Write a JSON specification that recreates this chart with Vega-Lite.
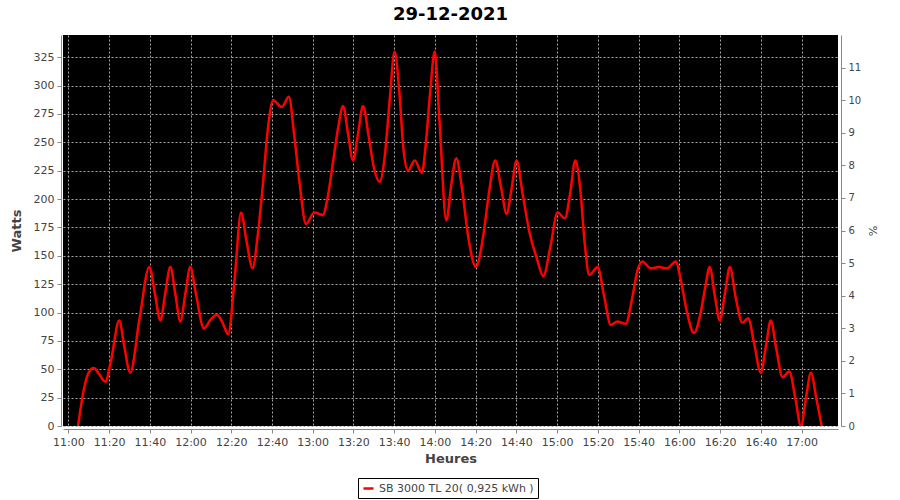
{
  "$schema": "https://vega.github.io/schema/vega-lite/v6.json",
  "autosize": {"type": "none"},
  "width": 775,
  "height": 391,
  "padding": {"left": 63, "top": 35, "right": 62, "bottom": 74},
  "background": "white",
  "title": {"text": "29-12-2021", "anchor": "middle", "offset": 11, "fontSize": 18, "font": "DejaVu Sans", "fontWeight": "bold", "color": "black"},
  "config": {
    "view": {"fill": "black", "stroke": null},
    "axis": {"labelFont": "DejaVu Sans", "labelFontSize": 11, "labelColor": "#444444", "titleFont": "DejaVu Sans", "titleFontSize": 13, "titleFontWeight": "bold", "titleColor": "#444444", "domainColor": "#888888", "tickColor": "#888888", "tickSize": 4, "gridColor": "#a8a8a8", "gridDash": [2, 2], "gridWidth": 1},
    "legend": {"labelFont": "DejaVu Sans", "labelFontSize": 11, "labelColor": "#444444"}
  },
  "layer": [
    {
      "data": {"values": [
        {"t": "2021-12-29T11:04:48", "w": 0},
        {"t": "2021-12-29T11:07:36", "w": 32},
        {"t": "2021-12-29T11:10:00", "w": 47},
        {"t": "2021-12-29T11:12:30", "w": 51},
        {"t": "2021-12-29T11:15:00", "w": 46},
        {"t": "2021-12-29T11:18:12", "w": 39},
        {"t": "2021-12-29T11:21:00", "w": 58},
        {"t": "2021-12-29T11:25:00", "w": 93},
        {"t": "2021-12-29T11:27:30", "w": 70},
        {"t": "2021-12-29T11:30:24", "w": 47},
        {"t": "2021-12-29T11:35:00", "w": 95},
        {"t": "2021-12-29T11:39:48", "w": 140},
        {"t": "2021-12-29T11:42:30", "w": 117},
        {"t": "2021-12-29T11:45:12", "w": 93},
        {"t": "2021-12-29T11:47:36", "w": 117},
        {"t": "2021-12-29T11:50:06", "w": 140},
        {"t": "2021-12-29T11:52:30", "w": 117},
        {"t": "2021-12-29T11:55:00", "w": 92},
        {"t": "2021-12-29T11:57:30", "w": 117},
        {"t": "2021-12-29T11:59:54", "w": 140},
        {"t": "2021-12-29T12:02:30", "w": 118},
        {"t": "2021-12-29T12:06:36", "w": 86},
        {"t": "2021-12-29T12:10:00", "w": 94},
        {"t": "2021-12-29T12:12:54", "w": 98},
        {"t": "2021-12-29T12:15:30", "w": 92},
        {"t": "2021-12-29T12:18:30", "w": 81},
        {"t": "2021-12-29T12:21:42", "w": 130},
        {"t": "2021-12-29T12:24:48", "w": 188},
        {"t": "2021-12-29T12:27:30", "w": 163},
        {"t": "2021-12-29T12:30:30", "w": 139},
        {"t": "2021-12-29T12:33:00", "w": 168},
        {"t": "2021-12-29T12:35:30", "w": 212},
        {"t": "2021-12-29T12:38:00", "w": 262},
        {"t": "2021-12-29T12:40:36", "w": 287},
        {"t": "2021-12-29T12:44:48", "w": 281},
        {"t": "2021-12-29T12:48:18", "w": 290},
        {"t": "2021-12-29T12:50:48", "w": 258},
        {"t": "2021-12-29T12:53:30", "w": 215},
        {"t": "2021-12-29T12:56:42", "w": 178},
        {"t": "2021-12-29T13:00:48", "w": 188},
        {"t": "2021-12-29T13:04:54", "w": 186},
        {"t": "2021-12-29T13:07:30", "w": 203},
        {"t": "2021-12-29T13:10:00", "w": 233},
        {"t": "2021-12-29T13:12:30", "w": 263},
        {"t": "2021-12-29T13:14:54", "w": 282},
        {"t": "2021-12-29T13:17:18", "w": 258},
        {"t": "2021-12-29T13:19:48", "w": 234},
        {"t": "2021-12-29T13:22:18", "w": 258},
        {"t": "2021-12-29T13:24:42", "w": 282},
        {"t": "2021-12-29T13:27:30", "w": 255},
        {"t": "2021-12-29T13:30:00", "w": 228},
        {"t": "2021-12-29T13:32:54", "w": 215},
        {"t": "2021-12-29T13:35:12", "w": 235},
        {"t": "2021-12-29T13:37:42", "w": 285},
        {"t": "2021-12-29T13:40:12", "w": 330},
        {"t": "2021-12-29T13:42:30", "w": 295},
        {"t": "2021-12-29T13:44:30", "w": 245},
        {"t": "2021-12-29T13:46:48", "w": 225},
        {"t": "2021-12-29T13:50:06", "w": 234},
        {"t": "2021-12-29T13:53:36", "w": 223},
        {"t": "2021-12-29T13:55:36", "w": 250},
        {"t": "2021-12-29T13:57:42", "w": 295},
        {"t": "2021-12-29T13:59:54", "w": 330},
        {"t": "2021-12-29T14:02:12", "w": 270},
        {"t": "2021-12-29T14:05:36", "w": 181},
        {"t": "2021-12-29T14:08:00", "w": 212},
        {"t": "2021-12-29T14:10:30", "w": 236},
        {"t": "2021-12-29T14:13:00", "w": 213},
        {"t": "2021-12-29T14:16:30", "w": 165},
        {"t": "2021-12-29T14:20:06", "w": 140},
        {"t": "2021-12-29T14:23:30", "w": 165},
        {"t": "2021-12-29T14:26:30", "w": 205},
        {"t": "2021-12-29T14:29:36", "w": 234},
        {"t": "2021-12-29T14:32:30", "w": 210},
        {"t": "2021-12-29T14:35:12", "w": 187},
        {"t": "2021-12-29T14:37:42", "w": 210},
        {"t": "2021-12-29T14:40:06", "w": 234},
        {"t": "2021-12-29T14:43:00", "w": 205},
        {"t": "2021-12-29T14:46:30", "w": 170},
        {"t": "2021-12-29T14:50:00", "w": 148},
        {"t": "2021-12-29T14:53:12", "w": 132},
        {"t": "2021-12-29T14:56:42", "w": 158},
        {"t": "2021-12-29T15:00:12", "w": 188},
        {"t": "2021-12-29T15:03:48", "w": 183},
        {"t": "2021-12-29T15:06:24", "w": 205},
        {"t": "2021-12-29T15:08:54", "w": 234},
        {"t": "2021-12-29T15:11:18", "w": 210},
        {"t": "2021-12-29T15:13:36", "w": 160},
        {"t": "2021-12-29T15:15:48", "w": 133},
        {"t": "2021-12-29T15:19:54", "w": 140},
        {"t": "2021-12-29T15:23:00", "w": 115},
        {"t": "2021-12-29T15:26:24", "w": 89},
        {"t": "2021-12-29T15:29:30", "w": 92},
        {"t": "2021-12-29T15:33:36", "w": 90},
        {"t": "2021-12-29T15:36:48", "w": 112},
        {"t": "2021-12-29T15:39:18", "w": 136},
        {"t": "2021-12-29T15:41:48", "w": 145},
        {"t": "2021-12-29T15:45:54", "w": 139},
        {"t": "2021-12-29T15:50:00", "w": 140},
        {"t": "2021-12-29T15:54:06", "w": 139},
        {"t": "2021-12-29T15:58:12", "w": 145},
        {"t": "2021-12-29T16:00:48", "w": 128},
        {"t": "2021-12-29T16:03:48", "w": 100},
        {"t": "2021-12-29T16:07:12", "w": 82},
        {"t": "2021-12-29T16:10:30", "w": 100},
        {"t": "2021-12-29T16:12:42", "w": 122},
        {"t": "2021-12-29T16:14:54", "w": 140},
        {"t": "2021-12-29T16:17:24", "w": 115},
        {"t": "2021-12-29T16:19:54", "w": 93},
        {"t": "2021-12-29T16:22:24", "w": 117},
        {"t": "2021-12-29T16:24:48", "w": 140},
        {"t": "2021-12-29T16:27:42", "w": 113},
        {"t": "2021-12-29T16:30:54", "w": 91},
        {"t": "2021-12-29T16:33:48", "w": 95},
        {"t": "2021-12-29T16:36:48", "w": 72},
        {"t": "2021-12-29T16:40:00", "w": 47},
        {"t": "2021-12-29T16:42:30", "w": 70},
        {"t": "2021-12-29T16:44:54", "w": 93},
        {"t": "2021-12-29T16:47:36", "w": 68},
        {"t": "2021-12-29T16:50:42", "w": 43},
        {"t": "2021-12-29T16:54:00", "w": 48},
        {"t": "2021-12-29T16:57:00", "w": 24},
        {"t": "2021-12-29T16:59:42", "w": 0},
        {"t": "2021-12-29T17:02:12", "w": 25},
        {"t": "2021-12-29T17:04:36", "w": 47},
        {"t": "2021-12-29T17:07:18", "w": 24},
        {"t": "2021-12-29T17:09:54", "w": 0}
      ]},
      "mark": {"type": "line", "interpolate": "monotone", "strokeWidth": 2.5, "clip": true},
      "encoding": {
        "x": {"field": "t", "type": "temporal", "title": "Heures",
              "scale": {"domain": ["2021-12-29T10:57:24", "2021-12-29T17:17:54"]},
              "axis": {"format": "%H:%M", "values": ["2021-12-29T11:00:00", "2021-12-29T11:20:00", "2021-12-29T11:40:00", "2021-12-29T12:00:00", "2021-12-29T12:20:00", "2021-12-29T12:40:00", "2021-12-29T13:00:00", "2021-12-29T13:20:00", "2021-12-29T13:40:00", "2021-12-29T14:00:00", "2021-12-29T14:20:00", "2021-12-29T14:40:00", "2021-12-29T15:00:00", "2021-12-29T15:20:00", "2021-12-29T15:40:00", "2021-12-29T16:00:00", "2021-12-29T16:20:00", "2021-12-29T16:40:00", "2021-12-29T17:00:00"], "offset": 3, "labelPadding": 3, "titlePadding": 5, "labelFlush": false, "labelOverlap": false}},
        "y": {"field": "w", "type": "quantitative", "title": "Watts",
              "scale": {"domain": [0, 344.5], "nice": false},
              "axis": {"values": [0, 25, 50, 75, 100, 125, 150, 175, 200, 225, 250, 275, 300, 325], "offset": 2, "labelPadding": 3, "titlePadding": 10}},
        "color": {"datum": "SB 3000 TL 20( 0,925 kWh )", "type": "nominal",
                  "scale": {"range": ["#ff0000"]},
                  "legend": {"title": null, "orient": "none", "legendX": 295, "legendY": 443, "symbolType": "stroke", "symbolStrokeWidth": 2.5, "strokeColor": "black", "fillColor": "white", "padding": 4}}
      }
    },
    {
      "data": {"values": [{"p": 0}, {"p": 12}]},
      "mark": {"type": "rule", "opacity": 0},
      "encoding": {
        "y": {"field": "p", "type": "quantitative", "title": "%",
              "scale": {"domain": [0, 12], "nice": false},
              "axis": {"orient": "right", "grid": false, "values": [0, 1, 2, 3, 4, 5, 6, 7, 8, 9, 10, 11], "offset": 3, "labelPadding": 3, "titlePadding": 6, "labelFontSize": 10, "titleFontWeight": "normal", "titleFontSize": 11}}
      }
    }
  ],
  "resolve": {"scale": {"y": "independent"}}
}
